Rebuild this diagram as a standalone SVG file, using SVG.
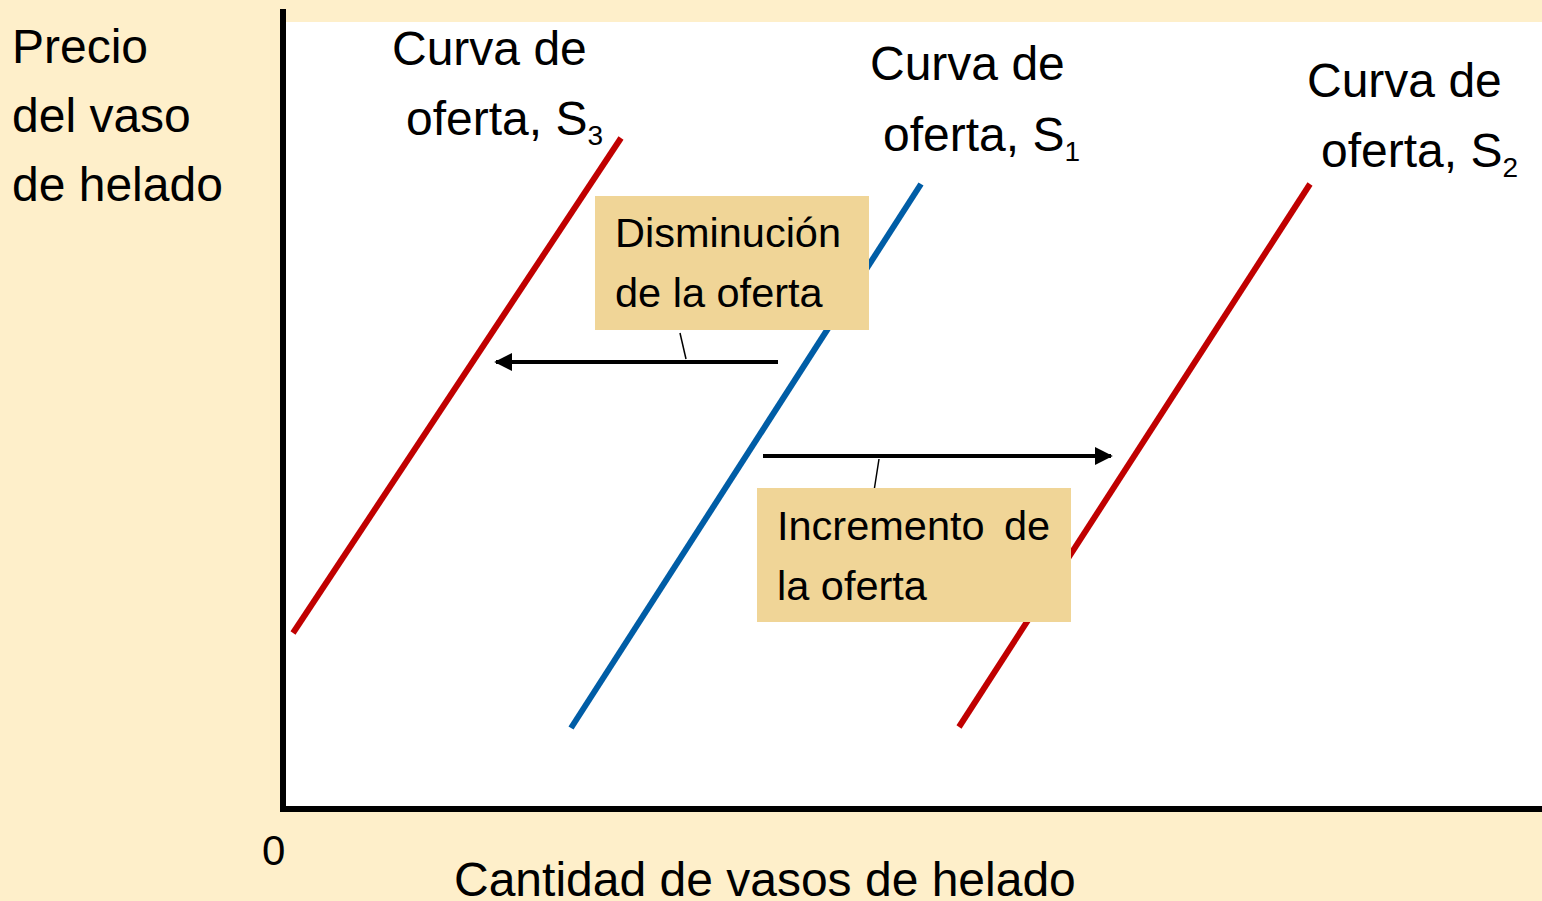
<svg xmlns="http://www.w3.org/2000/svg" width="1542" height="901" viewBox="0 0 1542 901">
<style>
text{font-family:"Liberation Sans",Arial,sans-serif;fill:#000}
.lbl{font-size:48px}
.box{font-size:41.5px}
.sub{font-size:28px}
.red{stroke:#C00000;stroke-width:6;fill:none}
.blue{stroke:#005DA6;stroke-width:6;fill:none}
.arr{stroke:#000;stroke-width:4;fill:none}
.lead{stroke:#000;stroke-width:1.5;fill:none}
.note{fill:#F0D597}
</style>
<defs>
<marker id="ah" viewBox="0 0 10 10" refX="9" refY="5" markerWidth="4.5" markerHeight="4.5" orient="auto" markerUnits="strokeWidth">
<path d="M0,0 L10,5 L0,10 z" fill="#000"/>
</marker>
</defs>
<rect x="0" y="0" width="1542" height="901" fill="#FEEFCA"/>
<rect x="285" y="22" width="1257" height="786" fill="#FFFFFF"/>
<g id="axes">
<line x1="283" y1="9" x2="283" y2="810" stroke="#000" stroke-width="6"/>
<line x1="280" y1="809" x2="1542" y2="809" stroke="#000" stroke-width="6"/>
<text id="origin" x="262" y="865" style="font-size:42px">0</text>
<text id="ylabel" class="lbl" x="12" y="63">Precio<tspan x="12" y="132">del vaso</tspan><tspan x="12" y="201">de helado</tspan></text>
<text id="xlabel" x="454" y="896" style="font-size:48px">Cantidad de vasos de helado</text>
</g>
<g id="S3">
<line class="red" x1="293" y1="633" x2="621" y2="138"/>
<text class="lbl" x="392" y="65">Curva de</text>
<text class="lbl" x="406" y="135">oferta, S<tspan class="sub" dy="10">3</tspan></text>
</g>
<g id="S1">
<line class="blue" x1="571" y1="728" x2="921" y2="184"/>
<text class="lbl" x="870" y="80">Curva de</text>
<text class="lbl" x="883" y="151">oferta, S<tspan class="sub" dy="10">1</tspan></text>
</g>
<g id="S2">
<line class="red" x1="959" y1="727" x2="1310" y2="184"/>
<text class="lbl" x="1307" y="97">Curva de</text>
<text class="lbl" x="1321" y="167">oferta, S<tspan class="sub" dy="10">2</tspan></text>
</g>
<g id="connectors">
<line class="arr" x1="778" y1="362" x2="496" y2="362" marker-end="url(#ah)"/>
<line class="arr" x1="763" y1="456" x2="1111" y2="456" marker-end="url(#ah)"/>
<line class="lead" x1="680" y1="333" x2="686" y2="359"/>
<line class="lead" x1="879" y1="459" x2="874" y2="491"/>
</g>
<g id="disminucion">
<rect class="note" x="595" y="196" width="274" height="134"/>
<text class="box" x="615" y="247">Disminución</text>
<text class="box" x="615" y="307">de la oferta</text>
</g>
<g id="incremento">
<rect class="note" x="757" y="488" width="314" height="134"/>
<text class="box" x="777" y="540">Incremento<tspan x="1004">de</tspan></text>
<text class="box" x="777" y="600">la oferta</text>
</g>
</svg>
